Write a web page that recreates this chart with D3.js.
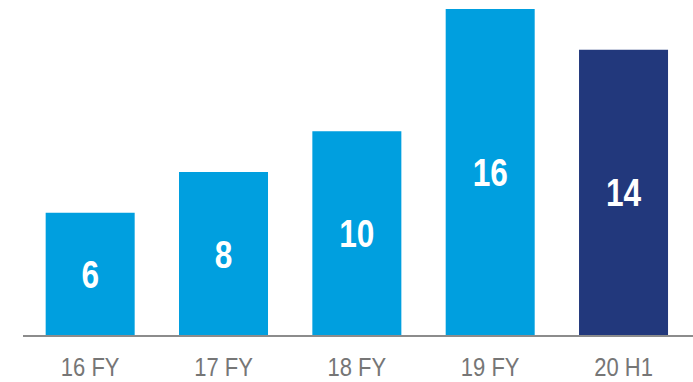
<!DOCTYPE html>
<html>
<head>
<meta charset="utf-8">
<script src="https://cdn.jsdelivr.net/npm/d3@7/dist/d3.min.js"></script>
<style>
  html, body { margin: 0; padding: 0; background: #ffffff; }
  svg { display: block; }
  .cat { font-family: "Liberation Sans", Arial, sans-serif; }
</style>
</head>
<body>
<svg id="chart" width="693" height="382"></svg>
<script>
// Periods and values shown on the chart
const categories = ["16 FY", "17 FY", "18 FY", "19 FY", "20 H1"];
const values = [6, 8, 10, 16, 14];
const barColors = ["#009fdf", "#009fdf", "#009fdf", "#009fdf", "#22387c"];

const width = 693, height = 382;
const svg = d3.select("#chart");

const x = d3.scaleBand()
  .domain(categories)
  .range([23.5, 690.2])
  .paddingInner(0.3325)
  .paddingOuter(0.16625);

const y = d3.scaleLinear()
  .domain([0, 16])
  .range([335, 9]);

// Bars
svg.append("g")
  .selectAll("rect")
  .data(values)
  .join("rect")
  .attr("x", (d, i) => x(categories[i]))
  .attr("y", d => y(d))
  .attr("width", x.bandwidth())
  .attr("height", d => y(0) - y(d))
  .attr("fill", (d, i) => barColors[i]);

// Value labels centred inside each bar, condensed horizontally
svg.append("g")
  .selectAll("text")
  .data(values)
  .join("text")
  .attr("class", "cat")
  .attr("transform", (d, i) =>
    `translate(${x(categories[i]) + x.bandwidth() / 2},${(y(d) + y(0)) / 2}) scale(0.81,1)`)
  .attr("dy", "0.36em")
  .attr("text-anchor", "middle")
  .attr("fill", "#ffffff")
  .attr("font-size", 39)
  .attr("font-weight", "bold")
  .text(d => d);

// Category axis
const axis = svg.append("g")
  .attr("transform", `translate(0,${y(0)})`)
  .call(d3.axisBottom(x).tickSize(0).tickPadding(0));

axis.select(".domain").remove();
axis.append("line")
  .attr("x1", 23)
  .attr("x2", width)
  .attr("y1", 1)
  .attr("y2", 1)
  .attr("stroke", "#8c8c8c")
  .attr("stroke-width", 2);

axis.selectAll(".tick text")
  .attr("class", "cat")
  .attr("transform", "translate(0,41) scale(0.88,1)")
  .attr("y", 0)
  .attr("dy", 0)
  .attr("fill", "#767676")
  .attr("font-size", 25);
</script>
</body>
</html>
